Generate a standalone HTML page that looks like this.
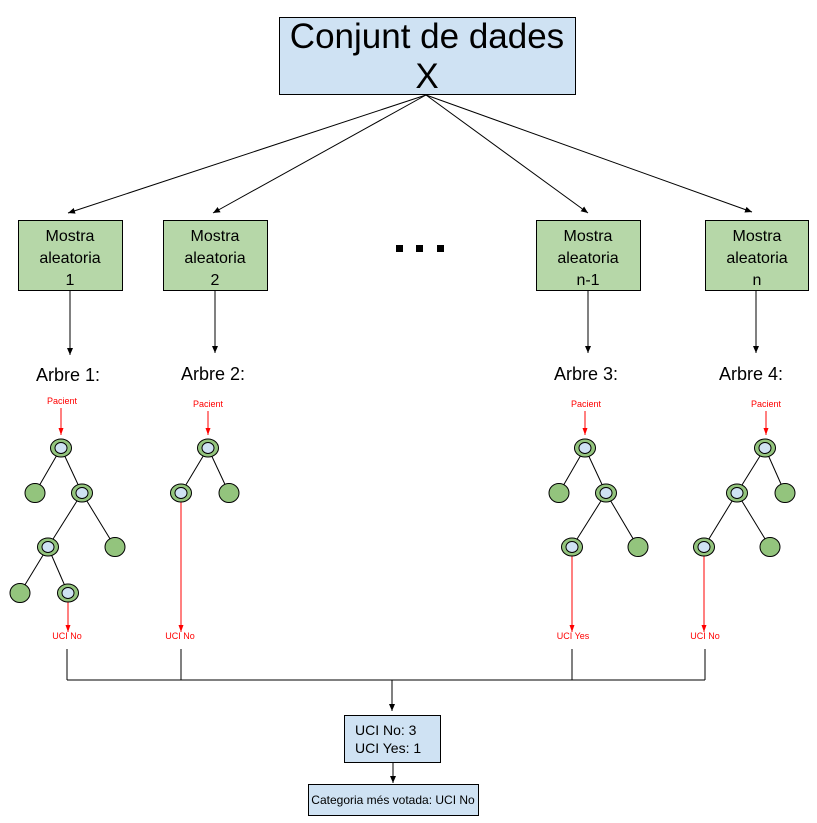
<!DOCTYPE html>
<html><head><meta charset="utf-8"><style>
html,body{margin:0;padding:0;background:#fff;}
svg{display:block;font-family:"Liberation Sans",sans-serif;}
</style></head><body>
<svg width="817" height="823" viewBox="0 0 817 823" xmlns="http://www.w3.org/2000/svg">
<defs>
<marker id="ab" markerWidth="8" markerHeight="8" refX="7" refY="4" orient="auto" markerUnits="userSpaceOnUse"><path d="M0,1 L7,4 L0,7 Z" fill="#000"/></marker>
<marker id="ar" markerWidth="8" markerHeight="8" refX="7" refY="4" orient="auto" markerUnits="userSpaceOnUse"><path d="M0,1.5 L7,4 L0,6.5 Z" fill="#f00"/></marker>
</defs>
<rect x="279.5" y="17.5" width="296" height="77" fill="#cfe2f3" stroke="#000"/>
<text x="427" y="48" font-size="35" text-anchor="middle">Conjunt de dades</text>
<text x="427" y="88" font-size="35" text-anchor="middle">X</text>
<g stroke="#000" stroke-width="1" fill="none" marker-end="url(#ab)">
<line x1="426" y1="95" x2="68" y2="213"/>
<line x1="426" y1="95" x2="213" y2="213"/>
<line x1="426" y1="95" x2="588" y2="213"/>
<line x1="426" y1="95" x2="752" y2="212"/>
</g>
<g fill="#b6d7a8" stroke="#000">
<rect x="18.5" y="220.5" width="104" height="70"/>
<rect x="163.5" y="220.5" width="104" height="70"/>
<rect x="536.5" y="220.5" width="104" height="70"/>
<rect x="705.5" y="220.5" width="103" height="70"/>
</g>
<g font-size="16" text-anchor="middle">
<text x="70" y="241">Mostra</text><text x="70" y="263">aleatoria</text><text x="70" y="285">1</text>
<text x="215" y="241">Mostra</text><text x="215" y="263">aleatoria</text><text x="215" y="285">2</text>
<text x="588" y="241">Mostra</text><text x="588" y="263">aleatoria</text><text x="588" y="285">n-1</text>
<text x="757" y="241">Mostra</text><text x="757" y="263">aleatoria</text><text x="757" y="285">n</text>
</g>
<rect x="396" y="245" width="7" height="7"/><rect x="416" y="245" width="7" height="7"/><rect x="437" y="245" width="7" height="7"/>
<g stroke="#000" marker-end="url(#ab)">
<line x1="70" y1="291" x2="70" y2="355"/>
<line x1="215" y1="291" x2="215" y2="353"/>
<line x1="588" y1="291" x2="588" y2="353"/>
<line x1="756" y1="291" x2="756" y2="353"/>
</g>
<g font-size="18" text-anchor="middle">
<text x="68" y="381">Arbre 1:</text>
<text x="213" y="380">Arbre 2:</text>
<text x="586" y="380">Arbre 3:</text>
<text x="751" y="380">Arbre 4:</text>
</g>
<g fill="#f00" font-size="9" text-anchor="middle">
<text x="62" y="404">Pacient</text>
<text x="208" y="407">Pacient</text>
<text x="586" y="407">Pacient</text>
<text x="766" y="407">Pacient</text>
<text x="67" y="639">UCI No</text>
<text x="180" y="639">UCI No</text>
<text x="573" y="639">UCI Yes</text>
<text x="705" y="639">UCI No</text>
</g>
<g stroke="#f00" marker-end="url(#ar)">
<line x1="61" y1="408" x2="61" y2="435"/>
<line x1="208" y1="411" x2="208" y2="435"/>
<line x1="585" y1="411" x2="585" y2="435"/>
<line x1="766" y1="411" x2="766" y2="435"/>
<line x1="68" y1="601" x2="68" y2="632"/>
<line x1="181" y1="502" x2="181" y2="632"/>
<line x1="572" y1="556" x2="572" y2="632"/>
<line x1="704" y1="556" x2="704" y2="632"/>
</g>
<g stroke="#000">
<line x1="61" y1="448" x2="35" y2="493"/><line x1="61" y1="448" x2="82" y2="493"/>
<line x1="82" y1="493" x2="48" y2="547"/><line x1="82" y1="493" x2="115" y2="547"/>
<line x1="48" y1="547" x2="20" y2="593"/><line x1="48" y1="547" x2="68" y2="593"/>
<line x1="208" y1="448" x2="181" y2="493"/><line x1="208" y1="448" x2="229" y2="493"/>
<line x1="585" y1="448" x2="559" y2="493"/><line x1="585" y1="448" x2="606" y2="493"/>
<line x1="606" y1="493" x2="572" y2="547"/><line x1="606" y1="493" x2="638" y2="547"/>
<line x1="765" y1="448" x2="737" y2="493"/><line x1="765" y1="448" x2="785" y2="493"/>
<line x1="737" y1="493" x2="704" y2="547"/><line x1="737" y1="493" x2="770" y2="547"/>
</g>
<g fill="#93c47d" stroke="#000" stroke-width="1">
<ellipse cx="35" cy="493" rx="10" ry="9.5"/><ellipse cx="115" cy="547" rx="10" ry="9.5"/><ellipse cx="20" cy="593" rx="10" ry="9.5"/>
<ellipse cx="229" cy="493" rx="10" ry="9.5"/>
<ellipse cx="559" cy="493" rx="10" ry="9.5"/><ellipse cx="638" cy="547" rx="10" ry="9.5"/>
<ellipse cx="785" cy="493" rx="10" ry="9.5"/><ellipse cx="770" cy="547" rx="10" ry="9.5"/>
</g>
<g fill="#93c47d" stroke="#000">
<ellipse cx="61" cy="448" rx="10.5" ry="9"/><ellipse cx="82" cy="493" rx="10.5" ry="9"/><ellipse cx="48" cy="547" rx="10.5" ry="9"/><ellipse cx="68" cy="593" rx="10.5" ry="9"/>
<ellipse cx="208" cy="448" rx="10.5" ry="9"/><ellipse cx="181" cy="493" rx="10.5" ry="9"/>
<ellipse cx="585" cy="448" rx="10.5" ry="9"/><ellipse cx="606" cy="493" rx="10.5" ry="9"/><ellipse cx="572" cy="547" rx="10.5" ry="9"/>
<ellipse cx="765" cy="448" rx="10.5" ry="9"/><ellipse cx="737" cy="493" rx="10.5" ry="9"/><ellipse cx="704" cy="547" rx="10.5" ry="9"/>
</g>
<g fill="#cfe2f3" stroke="#000">
<ellipse cx="61" cy="448" rx="6" ry="5.5"/><ellipse cx="82" cy="493" rx="6" ry="5.5"/><ellipse cx="48" cy="547" rx="6" ry="5.5"/><ellipse cx="68" cy="593" rx="6" ry="5.5"/>
<ellipse cx="208" cy="448" rx="6" ry="5.5"/><ellipse cx="181" cy="493" rx="6" ry="5.5"/>
<ellipse cx="585" cy="448" rx="6" ry="5.5"/><ellipse cx="606" cy="493" rx="6" ry="5.5"/><ellipse cx="572" cy="547" rx="6" ry="5.5"/>
<ellipse cx="765" cy="448" rx="6" ry="5.5"/><ellipse cx="737" cy="493" rx="6" ry="5.5"/><ellipse cx="704" cy="547" rx="6" ry="5.5"/>
</g>
<g stroke="#000" fill="none">
<line x1="67" y1="649" x2="67" y2="680"/>
<line x1="181" y1="649" x2="181" y2="680"/>
<line x1="572" y1="649" x2="572" y2="680"/>
<line x1="705" y1="649" x2="705" y2="680"/>
<line x1="67" y1="680" x2="705" y2="680"/>
<line x1="392" y1="680" x2="392" y2="711" marker-end="url(#ab)"/>
<line x1="393" y1="762" x2="393" y2="783" marker-end="url(#ab)"/>
</g>
<rect x="344.5" y="715.5" width="96" height="47" fill="#cfe2f3" stroke="#000"/>
<text x="355" y="735" font-size="14">UCI No: 3</text>
<text x="355" y="753" font-size="14">UCI Yes: 1</text>
<rect x="308.5" y="784.5" width="170" height="31" fill="#cfe2f3" stroke="#000"/>
<text x="393" y="804" font-size="12" text-anchor="middle">Categoria més votada: UCI No</text>
</svg>
</body></html>
